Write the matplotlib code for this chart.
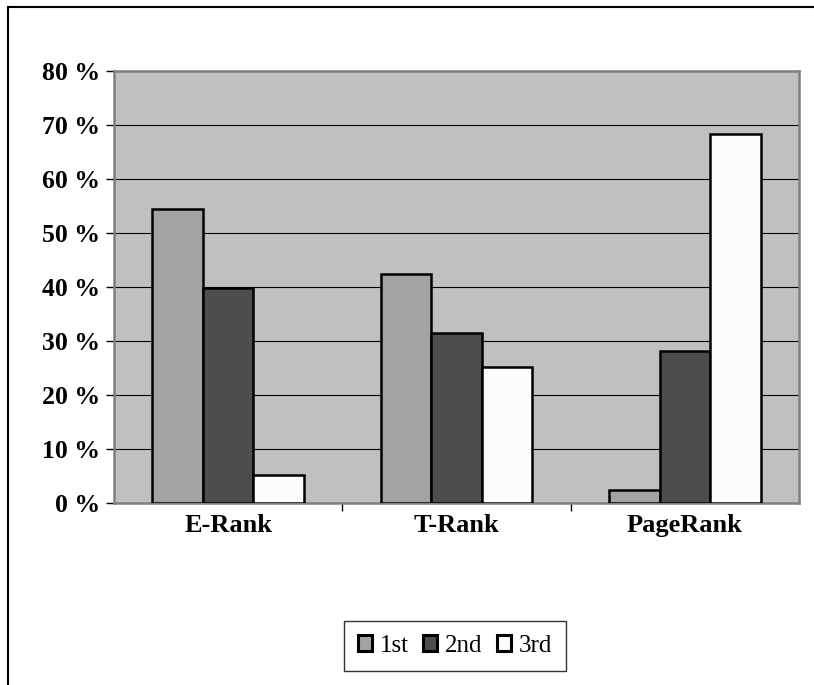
import matplotlib
matplotlib.use("Agg")
import matplotlib.pyplot as plt
from matplotlib.patches import Patch
from matplotlib.lines import Line2D
import numpy as np

categories = ["E-Rank", "T-Rank", "PageRank"]
series_names = ["1st", "2nd", "3rd"]
first = [54.5, 42.5, 2.4]
second = [39.8, 31.4, 28.1]
third = [5.1, 25.1, 68.3]
y_ticks = [0, 10, 20, 30, 40, 50, 60, 70, 80]
y_tick_labels = ["0 %", "10 %", "20 %", "30 %", "40 %", "50 %", "60 %", "70 %", "80 %"]

colors = ["#A3A3A3", "#4D4D4D", "#FCFCFC"]
serif = ["Liberation Serif", "DejaVu Serif"]

W, H = 814, 685
fig = plt.figure(figsize=(W / 100, H / 100), dpi=100)
fig.patch.set_facecolor("white")

ax = fig.add_axes([114 / W, 1 - 503 / H, (799 - 114) / W, (503 - 71) / H])
ax.set_facecolor("#C0C0C0")

x = np.arange(len(categories))
bw = 0.221
for k, vals in enumerate([first, second, third]):
    ax.bar(x + (k - 1) * bw, vals, width=bw, color=colors[k],
           edgecolor="black", linewidth=1.8, zorder=3)

ax.set_xlim(-0.5, 2.5)
ax.set_ylim(0, 80)
ax.set_yticks(y_ticks)
ax.set_yticklabels(y_tick_labels, fontfamily=serif, fontweight="bold", fontsize=18.5)
ax.yaxis.grid(True, color="black", linewidth=0.8, zorder=1)
ax.set_axisbelow(True)

# category labels centred under groups, ticks at group boundaries
ax.set_xticks([0.5, 1.5], minor=False)
ax.set_xticklabels([])
ax.set_xticks(x, minor=True)
ax.set_xticklabels(categories, minor=True, fontfamily=serif,
                   fontweight="bold", fontsize=19)
ax.tick_params(axis="x", which="minor", length=0, pad=8)
ax.tick_params(axis="x", which="major", length=6, width=1, color="black", direction="out")
ax.tick_params(axis="y", length=6, width=1, color="black", direction="out", pad=4)

for s in ["top", "right", "bottom", "left"]:
    ax.spines[s].set_color("#808080")
    ax.spines[s].set_linewidth(1.8)

handles = [Patch(facecolor=c, edgecolor="black", linewidth=2.2) for c in colors]
leg = fig.legend(handles, series_names, loc="center", ncol=3,
                 bbox_to_anchor=(455 / W, 1 - 646 / H), frameon=True, fancybox=False,
                 prop={"family": serif, "size": 18}, handlelength=0.55, handleheight=0.6,
                 handletextpad=0.3, columnspacing=0.6, borderpad=0.55, borderaxespad=0)
leg.get_frame().set_edgecolor("black")
leg.get_frame().set_linewidth(1.0)

# outer chart border (left and top edges)
fig.add_artist(Line2D([8 / W, 8 / W], [0, 1 - 7 / H], color="black", linewidth=1.5,
                      transform=fig.transFigure))
fig.add_artist(Line2D([8 / W, 1], [1 - 7 / H, 1 - 7 / H], color="black", linewidth=1.5,
                      transform=fig.transFigure))

fig.savefig("out.png", dpi=100)
